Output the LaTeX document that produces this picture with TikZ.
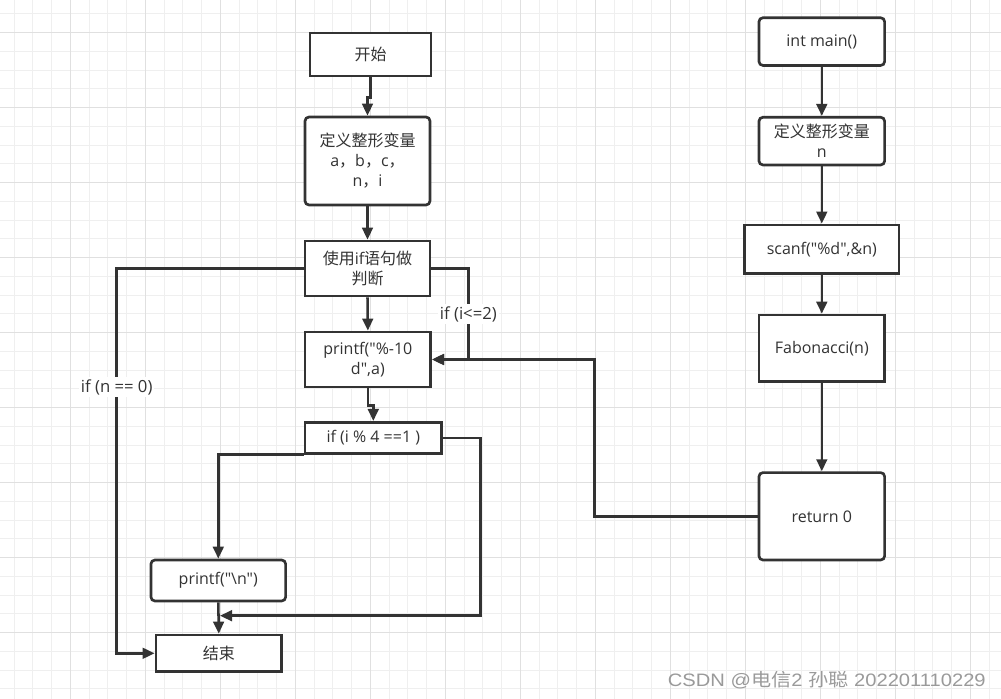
\documentclass[tikz,border=0pt]{standalone}
\usepackage{fontspec}
\setmainfont{Open Sans}[Ligatures=TeXOff]
\newfontfamily\wmfont{Liberation Sans}
\newfontfamily\cjkf{Noto Sans CJK SC}
\usetikzlibrary{arrows.meta}
\definecolor{ink}{HTML}{333333}
\definecolor{gridminor}{HTML}{EFEFEF}
\definecolor{gridmajor}{HTML}{E0E0E0}
\definecolor{wm}{HTML}{9A9A9A}
\begin{document}
\begin{tikzpicture}[x=0.75pt,y=-0.75pt,
  bx/.style 2 args={draw=ink, line width=2pt, fill=white, align=center, inner sep=0pt,
    text=ink, font=\fontsize{12}{15}\selectfont,
    minimum width=#1*0.75pt, minimum height=#2*0.75pt},
  rbx/.style={rounded corners=3pt},
  conn/.style={draw=ink, line width=1.9pt, -{Triangle[length=9pt,width=8pt]}},
  lbl/.style={fill=white, text=ink, inner sep=1.5pt, font=\fontsize{12.5}{15}\selectfont}]
\useasboundingbox (0,0) rectangle (1001,699);
\fill[white] (0,0) rectangle (1001,699);
% grid
\foreach \i in {0,...,53} {\draw[gridminor, line width=0.8pt] (14.05+\i*18.75,0) -- (14.05+\i*18.75,699);}
\foreach \i in {0,...,37} {\draw[gridminor, line width=0.8pt] (0,13.95+\i*18.75) -- (1001,13.95+\i*18.75);}
\foreach \i in {0,...,13} {\draw[gridmajor, line width=0.8pt] (70.3+\i*75,0) -- (70.3+\i*75,699);}
\foreach \i in {0,...,9} {\draw[gridmajor, line width=0.8pt] (0,32.7+\i*75) -- (1001,32.7+\i*75);}

% left column
\node[bx={121}{43}] (start) at (370.5,54.5) {\cjkf 开始};
\node[bx={125}{88}, rbx] (def1) at (367.5,161) {{\cjkf 定义整形变量}\\a{\cjkf ，}b{\cjkf ，}c{\cjkf ，}\\n{\cjkf ，}i};
\node[bx={125}{55}] (ifuse) at (367.5,268.5) {{\cjkf 使用}if{\cjkf 语句做}\\{\cjkf 判断}};
\node[bx={125.7}{55}] (pr1) at (367.85,359.5) {printf("\%-10\\d",a)};
\node[bx={136.7}{31}] (mod) at (373.3,437.8) {if (i \% 4 ==1 )};
\node[bx={134.7}{41}, rbx] (prn) at (218.3,580.5) {printf("\textbackslash n")};
\node[bx={125.7}{36.7}] (end) at (218.8,653.3) {\cjkf 结束};

% right column
\node[bx={125.7}{47.7}, rbx] (main) at (821.8,41.6) {int main()};
\node[bx={125.7}{47.7}, rbx] (def2) at (821.8,141.1) {{\cjkf 定义整形变量}\\n};
\node[bx={154.3}{48.7}] (scanf) at (821.8,249.3) {scanf("\%d",\&n)};
\node[bx={125.7}{66.6}] (fab) at (821.8,348.3) {Fabonacci(n)};
\node[bx={125.7}{87.4}, rbx] (ret) at (821.8,516.3) {return 0};

% connectors left
\draw[conn] (start.south) -- ++(0,20) -| (def1.north);
\draw[conn] (def1.south) -- (ifuse.north);
\draw[conn] (ifuse.south) -- (pr1.north);
\draw[conn] (pr1.south) -- ++(0,17) -| (mod.north);
\draw[conn] (ifuse.east) -- ++(37,0) |- (pr1.east) node[lbl, pos=0.25] {if (i<=2)};
\draw[conn] (ret.west) -- ++(-163,0) |- (pr1.east);
\draw[conn] (ifuse.west) -- ++(-187,0) |- (end.west) node[lbl, pos=0.154] {if (n == 0)};
\draw[conn] (mod.south west) -| (prn.north);
\coordinate (endin) at (220,615.7);
\draw[conn] (mod.east) -- ++(37.6,0) |- (endin);
\draw[conn] (prn.south) -- (end.north);

% connectors right
\draw[conn] (main.south) -- (def2.north);
\draw[conn] (def2.south) -- (scanf.north);
\draw[conn] (scanf.south) -- (fab.north);
\draw[conn] (fab.south) -- (ret.north);

% watermark
\node[anchor=east, text=wm, inner sep=0pt, xscale=1.12, transform shape, font=\wmfont\fontsize{13.5}{15}\selectfont] (wmk) at (986,680) {CSDN @{\cjkf 电信}2 {\cjkf 孙聪} 202201110229};
\end{tikzpicture}
\end{document}
